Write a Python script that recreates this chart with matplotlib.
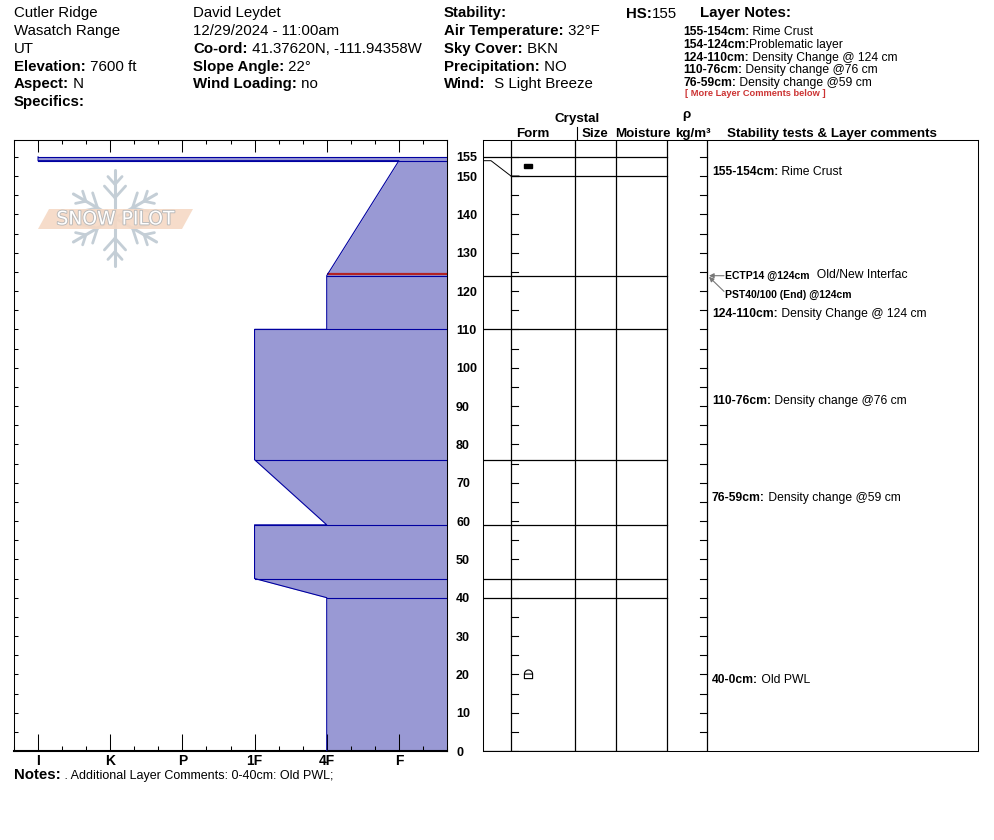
import numpy as np
import matplotlib.pyplot as plt
from matplotlib.path import Path
from matplotlib.patches import Polygon, Rectangle
import matplotlib.patheffects as pe

plt.rcParams['font.family'] = ['Liberation Sans', 'DejaVu Sans']

# ---- header info
site_rows = [('', 'Cutler Ridge'), ('', 'Wasatch Range'), ('', 'UT'),
             ('Elevation:', ' 7600 ft'), ('Aspect:', ' N'), ('Specifics:', '')]
obs_rows = [('', 'David Leydet'), ('', '12/29/2024 - 11:00am'),
            ('Co-ord:', ' 41.37620N, -111.94358W'), ('Slope Angle:', ' 22°'),
            ('Wind Loading:', ' no')]
wx_rows = [('Stability:', ''), ('Air Temperature:', ' 32°F'), ('Sky Cover:', ' BKN'),
           ('Precipitation:', ' NO'), ('Wind:', '  S Light Breeze')]
snow_height = 155

# ---- layers (cm from ground)
layer_top = [155, 154, 124, 110, 76, 59, 45, 40]
layer_bottom = [154, 124, 110, 76, 59, 45, 40, 0]
hard_top = ['I', 'F', '4F', '1F', '1F', '1F', '1F', '4F']
hard_bottom = ['I', '4F', '4F', '1F', '4F', '1F', '4F', '4F']
display_top = [155, 150, 124, 110, 76, 59, 45, 40]   # thin top layer stretched in the grain column
grain_form = ['MFcr', '', '', '', '', '', '', 'FCxr']
hardness_names = ['F', '4F', '1F', 'P', 'K', 'I']

# layer notes
note_range = ['155-154cm:', '154-124cm:', '124-110cm:', '110-76cm:', '76-59cm:']
note_text = [' Rime Crust', 'Problematic layer', ' Density Change @ 124 cm',
             ' Density change @76 cm', ' Density change @59 cm']
# comments shown in the column: layer index and text
comment_layer = [0, 2, 3, 4, 7]
comment_range = ['155-154cm:', '124-110cm:', '110-76cm:', '76-59cm:', '40-0cm:']
comment_text = [' Rime Crust', ' Density Change @ 124 cm', ' Density change @76 cm',
                ' Density change @59 cm', ' Old PWL']
# stability tests
test_name = ['ECTP14 @124cm', 'PST40/100 (End) @124cm']
test_note = ['  Old/New Interfac', '']
test_depth = [124, 124]
notes_line = ' . Additional Layer Comments: 0-40cm: Old PWL;'

fill_col = '#9999d4'
edge_col = '#0000a0'
ymax = 159.4


def hval(name):
    return 2 + 3 * hardness_names.index(name)


def pair(ax, x, y, label, value, size, vsize=None, **kw):
    t = ax.text(x, y, label, fontsize=size, fontweight='bold', ha='left', **kw)
    if value:
        ax.annotate(value, xy=(1, 0), xycoords=t, fontsize=vsize or size,
                    va='bottom', ha='left', color=kw.get('color', 'black'))
    return t


fig = plt.figure(figsize=(9.94, 8.4), dpi=100)
bg = fig.add_axes([0, 0, 1, 1])
bg.set_xlim(0, 994)
bg.set_ylim(840, 0)
bg.axis('off')

# header columns
for col_x, rows in [(14, site_rows), (193, obs_rows), (444, wx_rows)]:
    for i, (lab, val) in enumerate(rows):
        y = 17.5 + i * 17.7
        if lab:
            pair(bg, col_x, y, lab, val, 10.8, va='baseline')
        else:
            bg.text(col_x, y, val, fontsize=10.8, va='baseline')
pair(bg, 626, 17.5, 'HS:', str(snow_height), 10.8, va='baseline')
bg.text(700, 17.5, 'Layer Notes:', fontsize=10.8, fontweight='bold', va='baseline')
for i in range(len(note_range)):
    pair(bg, 683, 35 + i * 12.8, note_range[i], note_text[i], 8.7, va='baseline')
bg.text(685, 96, '[ More Layer Comments below ]', fontsize=6.7, fontweight='bold',
        color='#cc3333', va='baseline')

# column headers
bg.text(577, 122, 'Crystal', fontsize=9.6, fontweight='bold', ha='center', va='baseline')
for cx, s in [(533, 'Form'), (595, 'Size'), (643, 'Moisture'),
              (693, 'kg/m³'), (832, 'Stability tests & Layer comments')]:
    bg.text(cx, 137, s, fontsize=9.6, fontweight='bold', ha='center', va='baseline')
bg.text(686, 118, 'ρ', fontsize=9.6, fontweight='bold', ha='center', va='baseline')
bg.plot([577, 577], [127, 140], color='black', lw=0.8)

pair(bg, 14, 779, 'Notes:', notes_line, 10.8, vsize=9, va='baseline')

# ---------------- hardness profile
ax = fig.add_axes([14 / 994, 89 / 840, 433 / 994, 611 / 840])
ax.set_xlim(18, 0)
ax.set_ylim(0, ymax)

prof_y, prof_x = [], []
for t, b, ht, hb in zip(layer_top, layer_bottom, hard_top, hard_bottom):
    prof_y += [t, b]
    prof_x += [hval(ht), hval(hb)]
ax.fill_betweenx(prof_y, prof_x, 0, color=fill_col, lw=0, zorder=1)
ax.plot(prof_x, prof_y, color=edge_col, lw=0.8, zorder=3)
# boundary lines
bounds = layer_top + [0]
for i, d in enumerate(bounds):
    hs = []
    if i > 0:
        hs.append(hval(hard_bottom[i - 1]))
    if i < len(layer_top):
        hs.append(hval(hard_top[i]))
    ax.plot([max(hs), 0], [d, d], color=edge_col, lw=0.8, zorder=3)
# failure line from the stability test
fail_h = hval(hard_top[layer_top.index(test_depth[0])])
ax.plot([fail_h, 0], [test_depth[0] + 0.35, test_depth[0] + 0.35], color='#b22222',
        lw=1.6, zorder=2.5, solid_capstyle='butt')

ax.set_xticks([hval(n) for n in hardness_names])
ax.set_xticklabels(hardness_names, fontsize=10, fontweight='bold')
ax.set_xticks(np.arange(0, 19), minor=True)
ax.tick_params(axis='x', which='major', direction='in', length=12.5, width=0.75, pad=2.5)
ax.tick_params(axis='x', which='minor', direction='in', length=3.8, width=0.75)
ax.set_yticks(np.arange(0, 160, 5))
ax.set_yticklabels([])
ax.tick_params(axis='y', which='major', direction='in', length=3, width=0.75)

topax = ax.secondary_xaxis('top')
topax.set_xticks([hval(n) for n in hardness_names])
topax.set_xticklabels([])
topax.set_xticks(np.arange(0, 19), minor=True)
topax.tick_params(which='major', direction='in', length=8.8, width=0.75)
topax.tick_params(which='minor', direction='in', length=3, width=0.75)
topax.spines['top'].set_linewidth(0.75)

depth_labels = list(range(0, 151, 10)) + [155]
rax = ax.secondary_yaxis('right')
rax.set_yticks(depth_labels)
rax.set_yticklabels([str(d) for d in depth_labels], fontsize=9, fontweight='bold')
rax.set_yticks(np.arange(5, 150, 10), minor=True)
rax.tick_params(which='both', direction='in', length=5, width=0.75, pad=6.5)
rax.spines['right'].set_linewidth(0.75)
for s in ax.spines.values():
    s.set_linewidth(0.75)
ax.spines['bottom'].set_linewidth(1.5)

# ---------------- logo
lax = fig.add_axes([35 / 994, (840 - 268) / 840, 160 / 994, 100 / 840])
lax.set_xlim(-80 / 48, 80 / 48)
lax.set_ylim(-50 / 48, 50 / 48)
lax.axis('off')
flake = '#c4ced6'
for k in range(6):
    a = np.deg2rad(90 + 60 * k)
    d = np.array([np.cos(a), np.sin(a)])
    lax.plot([0, d[0]], [0, d[1]], color=flake, lw=2.2, solid_capstyle='round')
    for s, bl in [(0.42, 0.33), (0.7, 0.22)]:
        for sgn in (1, -1):
            b = a + sgn * np.deg2rad(42)
            p0 = d * s
            p1 = p0 + bl * np.array([np.cos(b), np.sin(b)])
            lax.plot([p0[0], p1[0]], [p0[1], p1[1]], color=flake, lw=2.0,
                     solid_capstyle='round')
band = [(-77 / 48, -11 / 48), (-66 / 48, 9 / 48), (78 / 48, 9 / 48), (67 / 48, -11 / 48)]
lax.add_patch(Polygon(band, closed=True, facecolor='#f5d9c5', edgecolor='none',
                      alpha=0.9, zorder=3))
lax.text(0.01, -0.02, 'SNOW PILOT', fontsize=13.5, color='white',
         ha='center', va='center', family='DejaVu Sans', zorder=4,
         path_effects=[pe.withStroke(linewidth=1.3, foreground='#b8b8b8')])

# ---------------- grain / comments column
cols = [0, 28, 92, 133, 184, 224, 495]
ax2 = fig.add_axes([483 / 994, 89 / 840, 495 / 994, 611 / 840])
ax2.set_xlim(0, 495)
ax2.set_ylim(0, ymax)
ax2.set_xticks([])
ax2.set_yticks([])
for s in ax2.spines.values():
    s.set_linewidth(0.75)
for cx in cols[1:-1]:
    ax2.plot([cx, cx], [0, ymax], color='black', lw=0.9)
disp_bounds = display_top + [0]
for real, disp in zip(bounds, disp_bounds):
    if real == disp:
        ax2.plot([0, cols[4]], [real, real], color='black', lw=0.9)
    else:
        ax2.plot([0, 8, cols[1], cols[1] + 8], [real, real, disp, disp], color='black', lw=0.7)
        ax2.plot([cols[1], cols[4]], [disp, disp], color='black', lw=0.9)
        ax2.plot([0, cols[1]], [snow_height, snow_height], color='black', lw=0.7)
for d in np.arange(0, 156, 5):
    ax2.plot([cols[1], cols[1] + 7], [d, d], color='black', lw=0.8)
    ax2.plot([cols[5] - 7, cols[5]], [d, d], color='black', lw=0.8)

# grain form symbols
px_cm = 611 / ymax
fcxr = Path([(-1, 0.1), (-1, -1), (1, -1), (1, 0.1), (-1, 0.1)] +
            [(np.cos(t), 0.1 + np.sin(t)) for t in np.linspace(np.pi, 0, 13)],
            [Path.MOVETO] + [Path.LINETO] * 4 + [Path.MOVETO] + [Path.LINETO] * 12)
for i, g in enumerate(grain_form):
    if not g:
        continue
    mid = (display_top[i] + disp_bounds[i + 1]) / 2
    gx = cols[1] + 17
    if g == 'MFcr':
        ax2.add_patch(Rectangle((gx - 4, mid - 2 / px_cm), 8, 4 / px_cm, color='black'))
    else:
        ax2.plot([gx], [mid], marker=fcxr, markersize=6.5, mfc='none', mec='black', mew=0.8)

# stability tests
for j, (tn, note, td) in enumerate(zip(test_name, test_note, test_depth)):
    ty = td - j * 5.0
    pair(ax2, 242, ty, tn, note, 7.5, vsize=8.7, va='center')
    ax2.annotate('', xy=(226, td - 0.3 * j), xytext=(241, ty + 0.9 * j),
                 arrowprops=dict(arrowstyle='-|>', color='#777777', lw=0.8,
                                 mutation_scale=7, shrinkA=0, shrinkB=0))

# layer comments
for li, rng, txt in zip(comment_layer, comment_range, comment_text):
    top_d = display_top[li]
    bot_d = disp_bounds[li + 1]
    if top_d in test_depth:
        n = test_depth.count(top_d)
        pair(ax2, 229, top_d - n * 5.0, rng, txt, 8.7, va='center')
    else:
        pair(ax2, 229, (top_d + bot_d) / 2, rng, txt, 8.7, va='top')

fig.savefig('out.png', dpi=100)
